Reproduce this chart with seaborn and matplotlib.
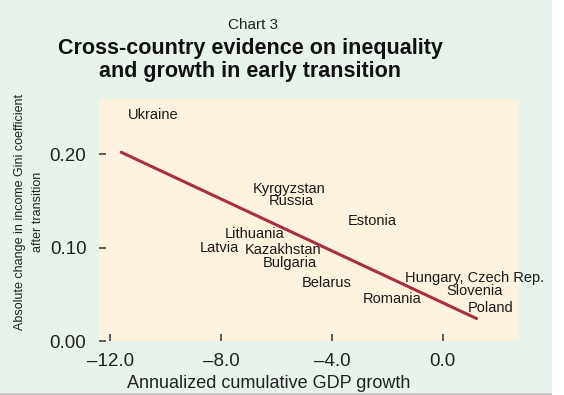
import matplotlib
matplotlib.use("Agg")
import matplotlib.pyplot as plt
import seaborn as sns
from matplotlib.patches import Rectangle

# country labels placed at (gdp growth, change in gini)
countries = ["Ukraine", "Kyrgyzstan", "Russia", "Estonia", "Lithuania", "Latvia",
             "Kazakhstan", "Bulgaria", "Belarus", "Romania",
             "Hungary, Czech Rep.", "Slovenia", "Poland"]
gdp_growth = [-10.45, -5.55, -5.48, -2.56, -6.77, -8.07, -5.77, -5.51, -4.18, -1.84, 1.15, 1.15, 1.73]
gini_change = [0.242, 0.163, 0.150, 0.128, 0.114, 0.100, 0.097, 0.084, 0.062, 0.045, 0.067, 0.053, 0.035]

# fitted trend line end points
trend_x = [-11.6, 1.22]
trend_y = [0.202, 0.024]

x_ticks = [-12.0, -8.0, -4.0, 0.0]
y_ticks = [0.00, 0.10, 0.20]

sns.set_style("white")
plt.rcParams['font.family'] = ['Liberation Sans', 'DejaVu Sans']

fig = plt.figure(figsize=(5.64, 3.95), dpi=100)
fig.patch.set_facecolor("white")
# mint panel behind the chart
fig.patches.append(Rectangle((0, 2 / 395), 552 / 564, 393 / 395, transform=fig.transFigure,
                             facecolor="#e8f3ec", edgecolor="none", zorder=-10))
fig.patches.append(Rectangle((0, 0), 552 / 564, 2 / 395, transform=fig.transFigure,
                             facecolor="#c8c8c8", edgecolor="none", zorder=-10))

ax = fig.add_axes([99 / 564, 54 / 395, 420 / 564, 242 / 395])
ax.set_facecolor("#fdf2de")

sns.lineplot(x=trend_x, y=trend_y, ax=ax, color="#a8303c", linewidth=2.2)

for name, gx, gy in zip(countries, gdp_growth, gini_change):
    ax.text(gx, gy, name, ha="center", va="center", fontsize=10.5, color="#1a1a1a")

ax.set_xlim(-12.4, 2.75)
ax.set_ylim(0, 0.259)
ax.set_xticks(x_ticks)
ax.set_xticklabels(["\u201312.0", "\u20138.0", "\u20134.0", "0.0"])
ax.set_yticks(y_ticks)
ax.set_yticklabels(["0.00", "0.10", "0.20"])
ax.tick_params(axis="both", direction="in", length=5, width=1.2, color="#444444",
               labelsize=13.5, labelcolor="#222222", bottom=True, left=True)
ax.tick_params(axis="x", pad=9)
ax.tick_params(axis="y", pad=9)
for s in ax.spines.values():
    s.set_visible(False)

ax.set_xlabel("Annualized cumulative GDP growth", fontsize=13, color="#222222", va="center")
ax.xaxis.set_label_coords((269 - 99) / 420, -(384 - 341) / 242)
ax.set_ylabel("Absolute change in income Gini coefficient\nafter transition", fontsize=9,
              color="#222222", linespacing=1.6, va="center")
ax.yaxis.set_label_coords(-(99 - 29) / 420, (341 - 212) / 242)

fig.text(253 / 564, 1 - 25 / 395, "Chart 3", ha="center", va="center", fontsize=11, color="#222222")
fig.text(250 / 564, 1 - 60 / 395, "Cross-country evidence on inequality\nand growth in early transition",
         ha="center", va="center", fontsize=15.5, fontweight="bold", color="#111111", linespacing=1.1)

fig.savefig("out.png", dpi=100, facecolor=fig.get_facecolor())
